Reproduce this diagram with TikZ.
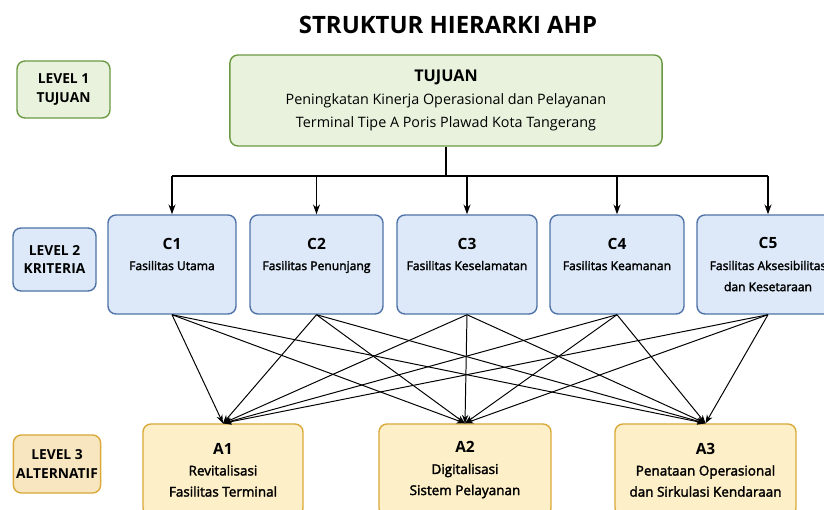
\documentclass[tikz,border=0pt]{standalone}
\usepackage{fontspec}
\setmainfont{Open Sans}
\newfontfamily\semibf[FakeBold=2.2]{Open Sans}
\usetikzlibrary{arrows.meta}
\definecolor{goalfill}{HTML}{E8F2DC}
\definecolor{goalline}{HTML}{6B9A43}
\definecolor{critfill}{HTML}{DDE9F8}
\definecolor{critline}{HTML}{4F73A8}
\definecolor{altfill}{HTML}{FDEFC8}
\definecolor{altline}{HTML}{D9A93A}
\definecolor{lvfill}{HTML}{F7E6C0}
\tikzset{
  box/.style={draw, rounded corners=0.2cm, line width=1pt, align=center, inner sep=2pt},
  goalbox/.style={box, draw=goalline, fill=goalfill},
  critbox/.style={box, draw=critline, fill=critfill, minimum height=2.475cm, font=\fontsize{8.6}{15}\selectfont},
  altbox/.style={box, draw=altline, fill=altfill, minimum height=2.3cm, font=\fontsize{9.6}{15}\selectfont},
  levelbox/.style={box, font=\bfseries\fontsize{9.8}{13}\selectfont},
  head/.style={font=\bfseries\fontsize{11}{15}\selectfont},
  trunk/.style={line width=0.9pt},
  link/.style={-{Stealth[length=6pt,width=4.5pt]}, line width=0.7pt},
}
\newcommand\hd[1]{{\bfseries\fontsize{11}{15}\selectfont #1}}
\begin{document}
\begin{tikzpicture}[x=0.025cm,y=-0.025cm]
 \useasboundingbox (0,0) rectangle (824,510);
 \node[font=\bfseries\fontsize{17}{20}\selectfont] (title) at (448,25) {STRUKTUR HIERARKI AHP};

 % level 1
 \node[levelbox, draw=goalline, fill=goalfill, minimum width=2.325cm, minimum height=1.425cm] (lv1) at (63.5,89.5) {LEVEL 1\\TUJUAN};
 \node[goalbox, minimum width=10.8cm, minimum height=2.275cm, font=\fontsize{10.2}{16.5}\selectfont] (goal) at (446,100.5)
   {{\bfseries\fontsize{11.5}{16.5}\selectfont TUJUAN}\\Peningkatan Kinerja Operasional dan Pelayanan\\Terminal Tipe A Poris Plawad Kota Tangerang};

 % level 2
 \node[levelbox, draw=critline, fill=critfill, minimum width=2.075cm, minimum height=1.575cm] (lv2) at (54.5,259.5) {LEVEL 2\\KRITERIA};
 \node[critbox, minimum width=3.2cm] (c1) at (172,264.5) {\hd{C1}\\{\semibf Fasilitas Utama}\\\mbox{}};
 \node[critbox, minimum width=3.325cm] (c2) at (316.5,264.5) {\hd{C2}\\{\semibf Fasilitas Penunjang}\\\mbox{}};
 \node[critbox, minimum width=3.5cm] (c3) at (467,264.5) {\hd{C3}\\{\semibf Fasilitas Keselamatan}\\\mbox{}};
 \node[critbox, minimum width=3.35cm] (c4) at (617,264.5) {\hd{C4}\\{\semibf Fasilitas Keamanan}\\\mbox{}};
 \node[critbox, minimum width=3.55cm] (c5) at (768,264.5) {\hd{C5}\\{\semibf Fasilitas Aksesibilitas}\\{\semibf dan Kesetaraan}};

 % level 3
 \node[levelbox, draw=altline, fill=lvfill, minimum width=2.15cm, minimum height=1.45cm] (lv3) at (57,464) {LEVEL 3\\ALTERNATIF};
 \node[altbox, minimum width=4cm] (a1) at (223,470) {\hd{A1}\\{\semibf Revitalisasi}\\{\semibf Fasilitas Terminal}};
 \node[altbox, minimum width=4.3cm] (a2) at (465,470) {\hd{A2}\\{\semibf Digitalisasi}\\{\semibf Sistem Pelayanan}};
 \node[altbox, minimum width=4.525cm] (a3) at (705.5,470) {\hd{A3}\\{\semibf Penataan Operasional}\\{\semibf dan Sirkulasi Kendaraan}};

 % goal to criteria
 \draw[trunk] (goal.south) -- (446,176) coordinate (hub);
 \draw[trunk] (c1.north |- hub) -- (c5.north |- hub);
 \foreach \c in {c1,c2,c3,c4,c5}
   \draw[trunk,-{Stealth[length=7pt,width=5pt]}] (\c.north |- hub) -- (\c.north);

 % criteria to alternatives
 \foreach \a in {a1,a2,a3}{
   \foreach \c in {c1,c2,c3,c4,c5}{
     \draw[link] (\c.south) -- (\a.north);
   }
 }
\end{tikzpicture}
\end{document}
